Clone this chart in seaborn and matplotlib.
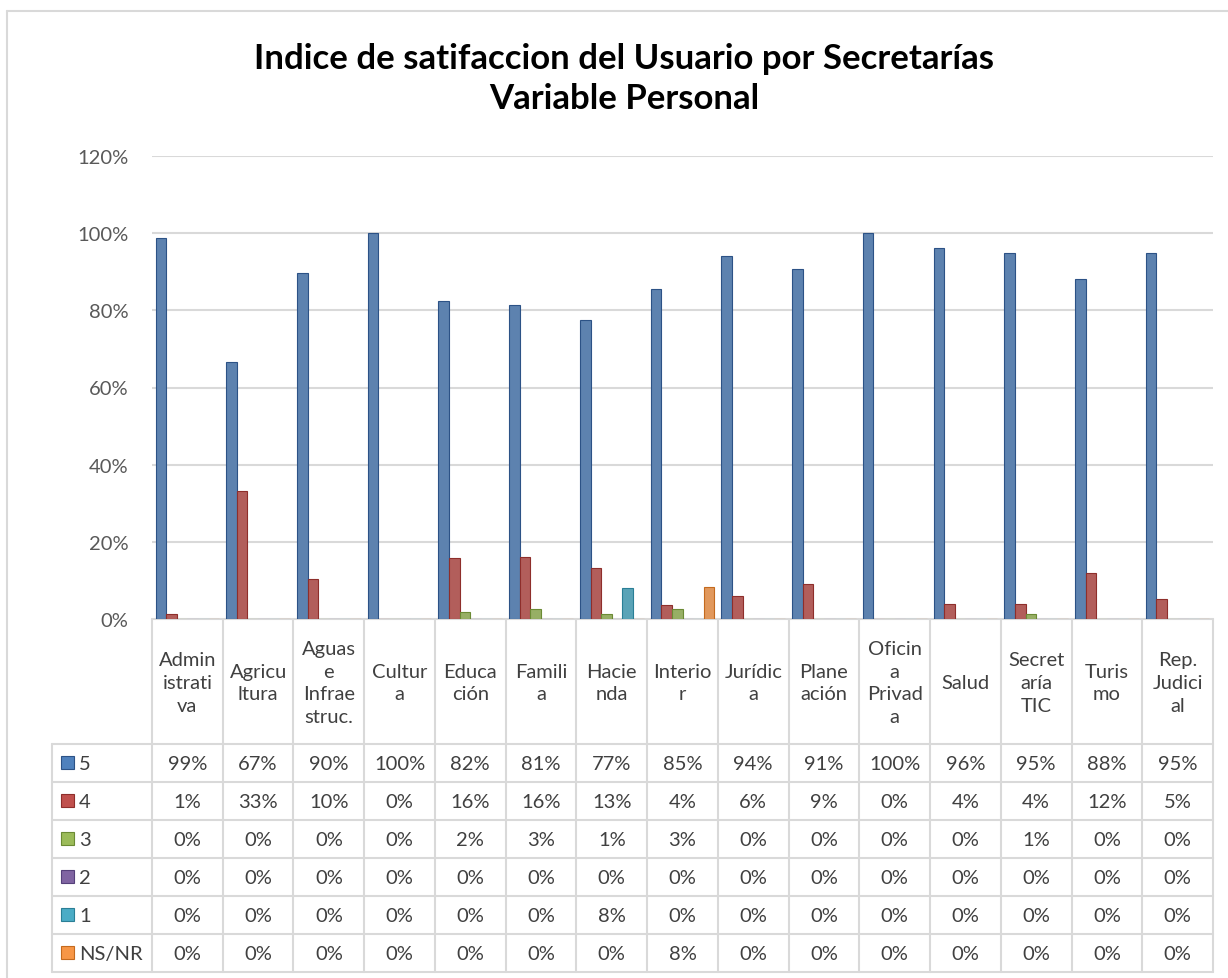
import numpy as np
import pandas as pd
import matplotlib
matplotlib.use("Agg")
import matplotlib.pyplot as plt
import seaborn as sns
from matplotlib.patches import Rectangle

# datos (porcentajes)
secretarias = ["Administrativa", "Agricultura", "Aguas e Infraestruc.", "Cultura",
               "Educación", "Familia", "Hacienda", "Interior", "Jurídica",
               "Planeación", "Oficina Privada", "Salud", "Secretaría TIC",
               "Turismo", "Rep. Judicial"]
etiquetas = ["Admin\nistrati\nva", "Agricu\nltura", "Aguas\ne\nInfrae\nstruc.",
             "Cultur\na", "Educa\nción", "Famili\na", "Hacie\nnda", "Interio\nr",
             "Jurídic\na", "Plane\nación", "Oficin\na\nPrivad\na", "Salud",
             "Secret\naría\nTIC", "Turis\nmo", "Rep.\nJudici\nal"]
niveles = ["5", "4", "3", "2", "1", "NS/NR"]
v5 = [98.8, 66.7, 89.7, 100, 82.4, 81.3, 77.4, 85.4, 94.1, 90.8, 100, 96.2, 94.8, 88.1, 94.9]
v4 = [1.2, 33.3, 10.3, 0, 15.7, 16.0, 13.2, 3.7, 5.9, 9.2, 0, 3.8, 4.0, 11.9, 5.1]
v3 = [0, 0, 0, 0, 1.9, 2.7, 1.3, 2.7, 0, 0, 0, 0, 1.2, 0, 0]
v2 = [0, 0, 0, 0, 0, 0, 0, 0, 0, 0, 0, 0, 0, 0, 0]
v1 = [0, 0, 0, 0, 0, 0, 8.1, 0, 0, 0, 0, 0, 0, 0, 0]
vns = [0, 0, 0, 0, 0, 0, 0, 8.2, 0, 0, 0, 0, 0, 0, 0]
colores = ["#4F81BD", "#C0504D", "#9BBB59", "#8064A2", "#4BACC6", "#F79646"]
bordes = ["#2C5286", "#8E2E2B", "#6B8A34", "#55407A", "#2A7F96", "#C46A1E"]

series = [v5, v4, v3, v2, v1, vns]
df = pd.DataFrame({
    "secretaria": np.tile(secretarias, len(niveles)),
    "nivel": np.repeat(niveles, len(secretarias)),
    "valor": np.concatenate(series),
})

sns.set_style("white")
plt.rcParams["font.family"] = ["Lato", "DejaVu Sans"]

W, H = 1228, 979
fig = plt.figure(figsize=(W / 100, H / 100), dpi=100)

# layout en pixeles
x0, x1 = 152, 1213
ytop, ybot = 157, 620
grid_c = "#D9D9D9"
txt_c = "#404040"
fs = 14.5

ax = fig.add_axes([x0 / W, 1 - ybot / H, (x1 - x0) / W, (ybot - ytop) / H])
sns.barplot(data=df, x="secretaria", y="valor", hue="nivel", order=secretarias,
            hue_order=niveles, palette=colores, width=0.9, ax=ax, legend=False,
            linewidth=0.8)
# bordes por serie
for cont, bc in zip(ax.containers, bordes):
    for p in cont:
        p.set_edgecolor(bc)

ax.set_xlim(-0.5, len(secretarias) - 0.5)
ax.set_ylim(0, 120)
ax.set_yticks(range(0, 121, 20))
ax.set_yticklabels([f"{t}%" for t in range(0, 121, 20)], fontsize=fs, color="#595959")
ax.tick_params(axis="y", length=0, pad=17)
ax.set_xticks([])
ax.set_xlabel("")
ax.set_ylabel("")
ax.yaxis.grid(True, color=grid_c, lw=1.5)
ax.set_axisbelow(True)
for s in ax.spines.values():
    s.set_visible(False)

# tabla de datos (eje en pixeles)
tab = fig.add_axes([0, 0, 1, 1], zorder=-1)
tab.set_xlim(0, W)
tab.set_ylim(H, 0)
tab.axis("off")

# marco del grafico
tab.plot([7, 7], [12, H], color=grid_c, lw=1.5)
tab.plot([7, W], [12, 12], color=grid_c, lw=1.5)

ncat = len(secretarias)
cw = (x1 - x0) / ncat
yh = 745
rh = 38
lx = 52
ybottom = yh + rh * len(niveles)

for k in range(ncat + 1):
    xx = x0 + k * cw
    tab.plot([xx, xx], [ybot, ybottom], color=grid_c, lw=1.5)
tab.plot([x0, x1], [ybot, ybot], color=grid_c, lw=1.5)
tab.plot([lx, lx], [yh, ybottom], color=grid_c, lw=1.5)
for r in range(len(niveles) + 1):
    yy = yh + r * rh
    tab.plot([lx, x1], [yy, yy], color=grid_c, lw=1.5)

for k, lab in enumerate(etiquetas):
    tab.text(x0 + (k + 0.5) * cw, (ybot + yh) / 2 + 1, lab, ha="center", va="center",
             fontsize=fs, color=txt_c, linespacing=1.42)

for r, (niv, vals) in enumerate(zip(niveles, series)):
    yc = yh + (r + 0.5) * rh
    tab.add_patch(Rectangle((61, yc - 7), 13, 13, facecolor=colores[r],
                            edgecolor=bordes[r], lw=0.8))
    tab.text(79, yc + 1, niv, ha="left", va="center", fontsize=fs, color=txt_c)
    for k, v in enumerate(vals):
        tab.text(x0 + (k + 0.5) * cw, yc + 1, f"{round(v):.0f}%", ha="center",
                 va="center", fontsize=fs, color=txt_c)

fig.text(624 / W, 1 - 79 / H, "Indice de satifaccion del Usuario por Secretarías\nVariable Personal",
         ha="center", va="center", fontsize=25, fontweight="bold", color="black",
         linespacing=1.32)

fig.savefig("out.png", dpi=100)
